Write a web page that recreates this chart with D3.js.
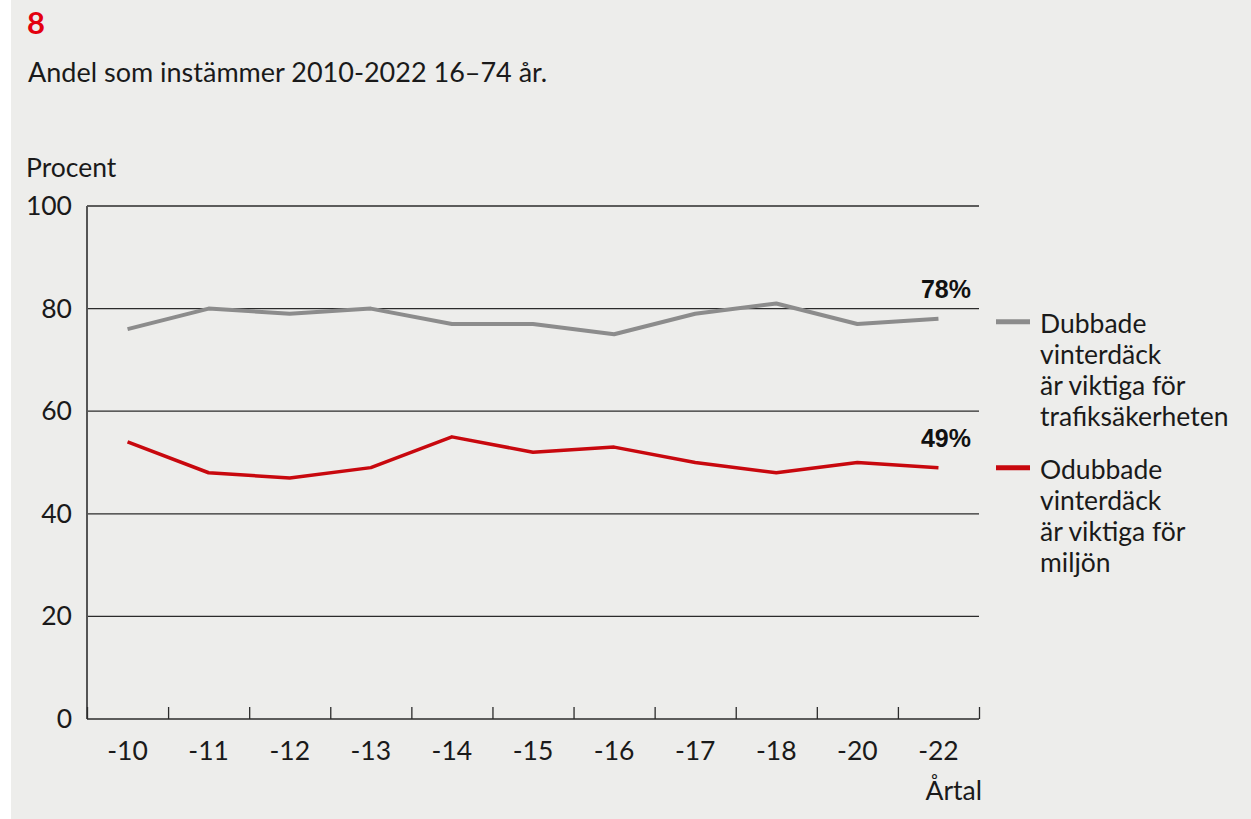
<!DOCTYPE html>
<html>
<head>
<meta charset="utf-8">
<script src="https://cdn.jsdelivr.net/npm/d3@7"></script>
<style>
  html, body { margin: 0; padding: 0; background: #fff; }
  svg { display: block; }
  .lbl { font-family: Lato, 'Open Sans', sans-serif; fill: #1a1a1a; }
</style>
</head>
<body>
<script>
const years = ['-10', '-11', '-12', '-13', '-14', '-15', '-16', '-17', '-18', '-20', '-22']
const studded = [76, 80, 79, 80, 77, 77, 75, 79, 81, 77, 78]
const nonStudded = [54, 48, 47, 49, 55, 52, 53, 50, 48, 50, 49]
const yTicks = [0, 20, 40, 60, 80, 100]
const legendGray = ['Dubbade', 'vinterdäck', 'är viktiga för', 'trafiksäkerheten']
const legendRed = ['Odubbade', 'vinterdäck', 'är viktiga för', 'miljön']

const WIDTH = 1251
const HEIGHT = 819
const FS = '26.5px'

const plot = { left: 87, right: 979, top: 206, bottom: 719 }

const GRAY = '#8c8c8c'
const RED = '#c8080e'

const svg = d3.select('body')
  .append('svg')
  .attr('width', WIDTH)
  .attr('height', HEIGHT)

svg.append('rect')
  .attr('x', 11)
  .attr('y', 0)
  .attr('width', WIDTH - 11)
  .attr('height', HEIGHT)
  .attr('fill', '#ededeb')

svg.append('text')
  .attr('x', 27)
  .attr('y', 34)
  .style('font-family', 'Lato, sans-serif')
  .style('font-weight', 'bold')
  .style('font-size', '31px')
  .attr('fill', '#e3000f')
  .text('8')

svg.append('text')
  .attr('class', 'lbl')
  .attr('x', 28)
  .attr('y', 82)
  .style('font-size', '27px')
  .text('Andel som instämmer 2010-2022 16–74 år.')

svg.append('text')
  .attr('class', 'lbl')
  .attr('x', 26)
  .attr('y', 177)
  .style('font-size', FS)
  .text('Procent')

const x = d3.scaleBand()
  .domain(years)
  .range([plot.left, plot.right])

const xEdge = d3.scaleLinear()
  .domain([0, years.length])
  .range([plot.left, plot.right])

const y = d3.scaleLinear()
  .domain([0, 100])
  .range([plot.bottom, plot.top])

// gridlines
svg.append('g')
  .selectAll('line')
  .data(yTicks.filter(d => d > 0))
  .enter()
  .append('line')
  .attr('x1', plot.left)
  .attr('x2', plot.right)
  .attr('y1', d => y(d))
  .attr('y2', d => y(d))
  .attr('stroke', '#2b2b2b')
  .attr('stroke-width', 1.3)

// y axis labels
const yAxis = d3.axisLeft(y)
  .tickValues(yTicks)
  .tickSize(0)
  .tickPadding(15)

const yg = svg.append('g')
  .attr('transform', 'translate(' + plot.left + ',0)')
  .call(yAxis)
yg.select('.domain').remove()
yg.selectAll('text')
  .attr('class', 'lbl')
  .style('font-size', FS)
  .attr('fill', '#1a1a1a')

// left axis line
svg.append('line')
  .attr('x1', plot.left)
  .attr('x2', plot.left)
  .attr('y1', plot.top)
  .attr('y2', plot.bottom)
  .attr('stroke', '#555')
  .attr('stroke-width', 2)

// x axis: ticks at band edges
const edgeAxis = d3.axisBottom(xEdge)
  .tickValues(d3.range(years.length + 1))
  .tickSize(-12)
  .tickFormat('')

const eg = svg.append('g')
  .attr('transform', 'translate(0,' + plot.bottom + ')')
  .call(edgeAxis)
eg.select('.domain')
  .attr('stroke', '#2b2b2b')
  .attr('stroke-width', 1.5)
  .attr('d', 'M' + plot.left + ',0H' + plot.right)
eg.selectAll('.tick line').attr('stroke', '#2b2b2b').attr('stroke-width', 1.3)

const xAxis = d3.axisBottom(x)
  .tickSize(0)
  .tickPadding(22)

const xg = svg.append('g')
  .attr('transform', 'translate(0,' + plot.bottom + ')')
  .call(xAxis)
xg.select('.domain').remove()
xg.selectAll('text')
  .attr('class', 'lbl')
  .style('font-size', FS)
  .attr('fill', '#1a1a1a')

svg.append('text')
  .attr('class', 'lbl')
  .attr('x', 982)
  .attr('y', 800)
  .attr('text-anchor', 'end')
  .style('font-size', FS)
  .text('Årtal')

// lines
const line = d3.line()
  .x((d, i) => x(years[i]) + x.bandwidth() / 2)
  .y(d => y(d))

svg.append('path')
  .datum(studded)
  .attr('d', line)
  .attr('fill', 'none')
  .attr('stroke', GRAY)
  .attr('stroke-width', 4)
  .attr('stroke-linejoin', 'round')

svg.append('path')
  .datum(nonStudded)
  .attr('d', line)
  .attr('fill', 'none')
  .attr('stroke', RED)
  .attr('stroke-width', 3.5)
  .attr('stroke-linejoin', 'round')

// end value labels
const last = years.length - 1
svg.selectAll('.endlbl')
  .data([studded[last], nonStudded[last]])
  .enter()
  .append('text')
  .attr('class', 'endlbl')
  .attr('x', plot.right - 8)
  .attr('y', d => y(d) - 21)
  .attr('text-anchor', 'end')
  .style('font-family', "'Liberation Sans', Arial, sans-serif")
  .style('font-weight', 'bold')
  .style('font-size', '25px')
  .attr('fill', '#111')
  .text(d => d + '%')

// legend
const legend = svg.append('g')
const items = [
  { color: GRAY, lines: legendGray, y0: y(studded[last]) + 4 },
  { color: RED, lines: legendRed, y0: y(nonStudded[last]) + 1 },
]
items.forEach(it => {
  legend.append('line')
    .attr('x1', 996)
    .attr('x2', 1030)
    .attr('y1', it.y0 - 1)
    .attr('y2', it.y0 - 1)
    .attr('stroke', it.color)
    .attr('stroke-width', 5)
  legend.append('text')
    .attr('class', 'lbl')
    .style('font-size', FS)
    .selectAll('tspan')
    .data(it.lines)
    .enter()
    .append('tspan')
    .attr('x', 1040)
    .attr('y', (d, i) => it.y0 + 10 + i * 31)
    .text(d => d)
})
</script>
</body>
</html>
